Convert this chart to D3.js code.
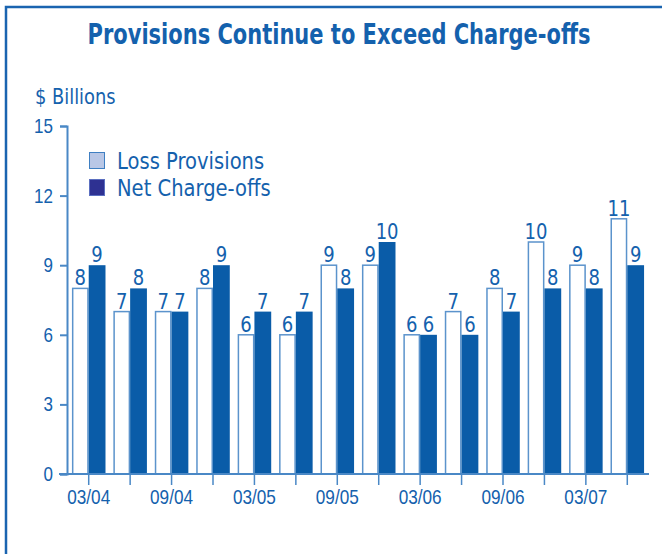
<!DOCTYPE html>
<html>
<head>
<meta charset="utf-8">
<script src="https://cdn.jsdelivr.net/npm/d3@7"></script>
<style>
  body { margin: 0; background: #fff; }
  svg { display: block; font-family: "DejaVu Sans", "Liberation Sans", sans-serif; }
</style>
</head>
<body>
<svg id="chart" width="662" height="554"></svg>
<script>
// data
const quarters = ["03/04","06/04","09/04","12/04","03/05","06/05","09/05","12/05",
                  "03/06","06/06","09/06","12/06","03/07","06/07"];
const lossProvisions = [8,7,7,8,6,6,9,9,6,7,8,10,9,11];
const netChargeOffs  = [9,8,7,9,7,7,8,10,6,6,7,8,8,9];
const yTicks = [0,3,6,9,12,15];
const seriesNames = ["Loss Provisions", "Net Charge-offs"];

const blue = "#0a5ca8";
const textBlue = "#1461ad";
const axisBlue = "#4a88c6";

const svg = d3.select('#chart');

// the original font is a condensed one, so squeeze text horizontally
function squeezedText(parent, x, y, sx, str, size, anchor) {
    return parent.append('text')
        .attr('transform', 'translate(' + x + ',' + y + ') scale(' + sx + ',1)')
        .attr('text-anchor', anchor || 'start')
        .attr('font-size', size)
        .attr('fill', textBlue)
        .text(str);
}

// outer frame, runs off the right and bottom edge
svg.append('rect')
    .attr('x', 6).attr('y', 7)
    .attr('width', 700).attr('height', 600)
    .attr('fill', 'none')
    .attr('stroke', '#1a64b0')
    .attr('stroke-width', 2.5);

squeezedText(svg, 339, 44, 0.75, 'Provisions Continue to Exceed Charge-offs', 28, 'middle')
    .attr('font-weight', 'bold');

squeezedText(svg, 35, 104, 0.85, '$ Billions', 21);

const x = d3.scaleBand()
    .domain(quarters)
    .range([68, 648])
    .paddingInner(0.19)
    .paddingOuter(0.095);

const y = d3.scaleLinear()
    .domain([0, 15])
    .range([474, 126]);

const half = x.bandwidth() / 2;

// y axis
const yAxis = svg.append('g')
    .attr('transform', 'translate(67,0)')
    .call(d3.axisLeft(y).tickValues(yTicks).tickSize(7).tickPadding(5));
yAxis.select('.domain').attr('stroke', axisBlue).attr('stroke-width', 2);
yAxis.selectAll('.tick line').attr('stroke', axisBlue).attr('stroke-width', 2);
yAxis.selectAll('.tick text')
    .attr('fill', textBlue)
    .attr('font-size', 20)
    .attr('font-family', null)
    .attr('x', -14 / 0.85)
    .attr('transform', 'scale(0.85,1)');

// bars
const groups = svg.append('g').selectAll('g')
    .data(quarters)
    .join('g');

groups.append('rect')
    .attr('x', d => x(d) + 0.75)
    .attr('y', (d, i) => y(lossProvisions[i]))
    .attr('width', half - 1.5)
    .attr('height', (d, i) => y(0) - y(lossProvisions[i]))
    .attr('fill', '#fff')
    .attr('stroke', '#5b93cc')
    .attr('stroke-width', 1.5);

groups.append('rect')
    .attr('x', d => x(d) + half)
    .attr('y', (d, i) => y(netChargeOffs[i]))
    .attr('width', half)
    .attr('height', (d, i) => y(0) - y(netChargeOffs[i]))
    .attr('fill', blue);

groups.each(function (d, i) {
    const g = d3.select(this);
    squeezedText(g, x(d) + half / 2, y(lossProvisions[i]) - 3, 0.82, lossProvisions[i], 22, 'middle');
    squeezedText(g, x(d) + half * 1.5, y(netChargeOffs[i]) - 3, 0.82, netChargeOffs[i], 22, 'middle');
});

// x axis: tick at each group centre, label every other quarter
const xAxis = svg.append('g')
    .attr('transform', 'translate(0,474)')
    .call(d3.axisBottom(x)
        .tickSize(11)
        .tickFormat((d, i) => i % 2 === 0 ? d : ''));
xAxis.select('.domain').attr('d', 'M59,0H649').attr('stroke', axisBlue).attr('stroke-width', 2);
xAxis.selectAll('.tick line').attr('stroke', axisBlue).attr('stroke-width', 1.5);
xAxis.selectAll('.tick text')
    .attr('fill', textBlue)
    .attr('font-size', 20)
    .attr('font-family', null)
    .attr('y', 30)
    .attr('dy', null)
    .attr('transform', 'scale(0.86,1)');

// legend
const legend = svg.append('g').attr('transform', 'translate(89,152)');
const legendFills = ['#b9c7e6', '#2e3192'];
const legendStrokes = ['#3f7fc2', '#5b6fc0'];
seriesNames.forEach(function (name, i) {
    legend.append('rect')
        .attr('x', 0.5).attr('y', i * 27 + 0.5)
        .attr('width', 15).attr('height', 16)
        .attr('fill', legendFills[i])
        .attr('stroke', legendStrokes[i])
        .attr('stroke-width', 1);
    squeezedText(legend, 28, i * 27 + 17, 0.85, name, 23);
});
</script>
</body>
</html>
